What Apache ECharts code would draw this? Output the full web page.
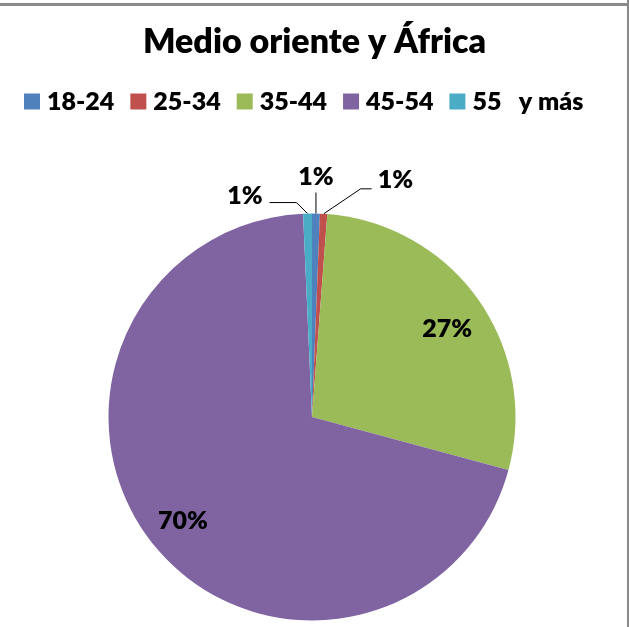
<!DOCTYPE html>
<html><head><meta charset="utf-8">
<script src="https://cdn.jsdelivr.net/npm/echarts@6/dist/echarts.min.js"></script>
<style>html,body{margin:0;padding:0;background:#fff}#c{width:629px;height:627px}</style>
</head><body><div id="c"></div>
<script>
// ---- data ----
const chartTitle = 'Medio oriente y África';
const categories = ['18-24', '25-34', '35-44', '45-54', '55   y más'];
const values = [0.62, 0.58, 28.0, 70.1, 0.7];
const percentLabels = ['1%', '1%', '27%', '70%', '1%'];

// ---- styles ----
const colors = ['#4F81BD', '#C0504D', '#9BBB59', '#8064A2', '#4BACC6'];
const FONT = 'Lato, "Open Sans", sans-serif';
const WEIGHT = 800;
const CX = 312, CY = 417, R = 203.5;
const insideIdx = [2, 3];
const INSIDE_FACTOR = 1.58;
const insideShift = { 2: [0, 8], 3: [0, 0] };
const leader = {
  0: { bend: [0, -21], tail: 0, align: 'center', lx: 0, ly: -16 },
  1: { bend: [37, -25], tail: 11, align: 'left', lx: 6, ly: -9 },
  4: { bend: [-11, -11], tail: -27, align: 'right', lx: -7, ly: -7 }
};

const chart = echarts.init(document.getElementById('c'), null, { renderer: 'canvas' });

const seriesData = categories.map((name, i) => {
  const inside = insideIdx.includes(i);
  return {
    name: name,
    value: values[i],
    itemStyle: { color: colors[i] },
    label: { position: inside ? 'inside' : 'outside' },
    labelLine: { show: !inside }
  };
});

chart.setOption({
  animation: false,
  backgroundColor: '#fff',
  title: {
    text: chartTitle,
    left: 'center',
    top: 25,
    padding: [0, 0, 0, 7],
    textStyle: { fontFamily: FONT, fontWeight: WEIGHT, fontSize: 34, lineHeight: 34, color: '#000' }
  },
  legend: {
    left: 24,
    top: 89,
    padding: 0,
    itemWidth: 16,
    itemHeight: 16,
    itemGap: 16,
    icon: 'rect',
    selectedMode: false,
    data: categories,
    textStyle: { fontFamily: FONT, fontWeight: WEIGHT, fontSize: 25, lineHeight: 24, color: '#000', padding: [0, 0, 0, 2] }
  },
  graphic: [
    { type: 'rect', shape: { x: 0, y: 3, width: 629, height: 3 }, style: { fill: '#8a8a8a' }, silent: true },
    { type: 'rect', shape: { x: 627, y: 0, width: 2, height: 627 }, style: { fill: '#8a8a8a' }, silent: true }
  ],
  series: [{
    type: 'pie',
    center: [CX, CY],
    radius: R,
    startAngle: 90,
    clockwise: true,
    avoidLabelOverlap: false,
    silent: true,
    data: seriesData,
    itemStyle: { borderWidth: 0 },
    label: {
      show: true,
      formatter: p => percentLabels[p.dataIndex],
      fontFamily: FONT, fontWeight: WEIGHT, fontSize: 25, color: '#000'
    },
    labelLine: { show: true, length: 10, length2: 10, lineStyle: { color: '#000', width: 1 } },
    labelLayout: function (p) {
      const i = p.dataIndex;
      if (insideIdx.includes(i)) {
        const r = p.labelRect;
        const mx = r.x + r.width / 2, my = r.y + r.height / 2;
        const s = insideShift[i];
        return { x: CX + (mx - CX) * INSIDE_FACTOR + s[0], y: CY + (my - CY) * INSIDE_FACTOR + s[1], align: 'center', verticalAlign: 'middle' };
      }
      const L = leader[i];
      const p0 = p.labelLinePoints[0];
      const p1 = [p0[0] + L.bend[0], p0[1] + L.bend[1]];
      const p2 = [p1[0] + L.tail, p1[1]];
      return {
        x: p2[0] + L.lx, y: p2[1] + L.ly, align: L.align, verticalAlign: 'middle',
        labelLinePoints: [[p0[0], p0[1]], p1, p2]
      };
    }
  }]
});
</script>
</body></html>
